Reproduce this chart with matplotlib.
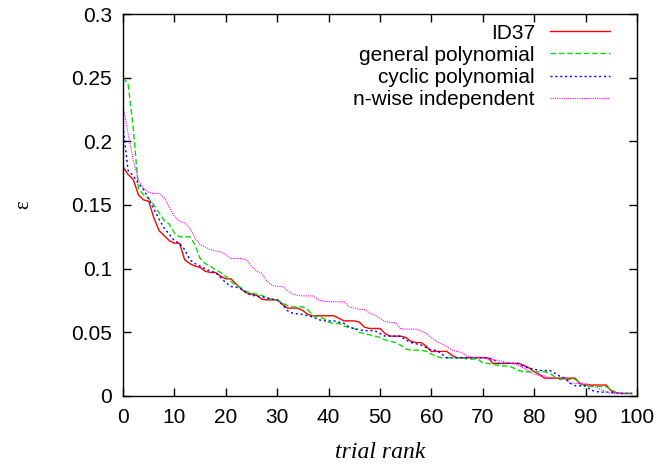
import numpy as np
import matplotlib
matplotlib.use('Agg')
import matplotlib.pyplot as plt

plt.rcParams['font.family'] = ['Liberation Sans', 'DejaVu Sans']

# epsilon per trial rank
id37 = [0.180, 0.174, 0.170, 0.158, 0.154, 0.153, 0.140, 0.130, 0.126, 0.122,
        0.120, 0.120, 0.107, 0.104, 0.102, 0.101, 0.098, 0.097, 0.097, 0.094,
        0.092, 0.092, 0.088, 0.084, 0.081, 0.080, 0.079, 0.076, 0.0755, 0.0755,
        0.0755, 0.072, 0.069, 0.069, 0.069, 0.067, 0.064, 0.063, 0.063, 0.063,
        0.063, 0.063, 0.061, 0.059, 0.059, 0.059, 0.058, 0.054, 0.053, 0.053,
        0.053, 0.049, 0.047, 0.047, 0.047, 0.046, 0.043, 0.042, 0.042, 0.039,
        0.035, 0.035, 0.035, 0.035, 0.032, 0.030, 0.030, 0.030, 0.030, 0.030,
        0.030, 0.030, 0.0256, 0.0256, 0.0256, 0.0256, 0.0256, 0.0256, 0.024, 0.022,
        0.019, 0.017, 0.014, 0.014, 0.014, 0.014, 0.014, 0.014, 0.014, 0.0094,
        0.0086, 0.0086, 0.0086, 0.0086, 0.0086, 0.004, 0.0025, 0.002, 0.002, 0.002]

general = [0.250, 0.245, 0.210, 0.163, 0.158, 0.155, 0.150, 0.144, 0.138, 0.135,
           0.128, 0.125, 0.125, 0.125, 0.119, 0.108, 0.104, 0.102, 0.099, 0.097,
           0.094, 0.090, 0.087, 0.085, 0.082, 0.081, 0.080, 0.079, 0.077, 0.076,
           0.0755, 0.073, 0.071, 0.070, 0.070, 0.070, 0.0675, 0.063, 0.062, 0.061,
           0.058, 0.057, 0.057, 0.055, 0.054, 0.053, 0.050, 0.049, 0.048, 0.047,
           0.046, 0.044, 0.043, 0.042, 0.040, 0.037, 0.036, 0.036, 0.036, 0.035,
           0.033, 0.031, 0.030, 0.030, 0.030, 0.030, 0.030, 0.029, 0.029, 0.029,
           0.026, 0.0256, 0.025, 0.024, 0.0236, 0.0236, 0.022, 0.020, 0.019, 0.019,
           0.019, 0.019, 0.019, 0.018, 0.015, 0.013, 0.013, 0.013, 0.013, 0.010,
           0.0075, 0.0075, 0.0075, 0.0075, 0.0073, 0.005, 0.0026, 0.002, 0.002, 0.002]

cyclic = [0.212, 0.177, 0.173, 0.167, 0.162, 0.155, 0.147, 0.139, 0.132, 0.127,
          0.122, 0.120, 0.115, 0.107, 0.104, 0.102, 0.100, 0.098, 0.097, 0.093,
          0.089, 0.086, 0.0855, 0.084, 0.081, 0.079, 0.0786, 0.078, 0.077, 0.076,
          0.0754, 0.072, 0.067, 0.065, 0.0645, 0.064, 0.063, 0.062, 0.060, 0.059,
          0.059, 0.059, 0.058, 0.057, 0.054, 0.053, 0.052, 0.0513, 0.0513, 0.0513,
          0.049, 0.047, 0.047, 0.047, 0.047, 0.044, 0.042, 0.041, 0.040, 0.038,
          0.036, 0.036, 0.033, 0.030, 0.030, 0.030, 0.030, 0.030, 0.030, 0.030,
          0.030, 0.030, 0.029, 0.0256, 0.0256, 0.0256, 0.0256, 0.0256, 0.023, 0.022,
          0.021, 0.020, 0.020, 0.020, 0.018, 0.0155, 0.014, 0.010, 0.008, 0.008,
          0.008, 0.0047, 0.0035, 0.003, 0.003, 0.003, 0.002, 0.002, 0.002, 0.002]

nwise = [0.228, 0.206, 0.185, 0.170, 0.163, 0.160, 0.159, 0.159, 0.156, 0.148,
         0.141, 0.137, 0.136, 0.132, 0.124, 0.119, 0.117, 0.115, 0.114, 0.113,
         0.111, 0.108, 0.108, 0.108, 0.107, 0.102, 0.098, 0.0965, 0.090, 0.087,
         0.086, 0.086, 0.083, 0.080, 0.079, 0.0786, 0.0786, 0.0786, 0.0755, 0.0745,
         0.074, 0.074, 0.074, 0.074, 0.070, 0.069, 0.068, 0.068, 0.065, 0.0636,
         0.061, 0.0585, 0.0578, 0.0576, 0.053, 0.0525, 0.0525, 0.0525, 0.051, 0.049,
         0.046, 0.043, 0.041, 0.039, 0.036, 0.035, 0.034, 0.031, 0.0305, 0.0305,
         0.0305, 0.029, 0.0285, 0.028, 0.027, 0.026, 0.0255, 0.024, 0.022, 0.019,
         0.017, 0.016, 0.0157, 0.014, 0.014, 0.014, 0.013, 0.010, 0.010, 0.010,
         0.010, 0.0086, 0.007, 0.005, 0.003, 0.002, 0.002, 0.002, 0.002, 0.002]

rank = np.arange(len(id37))

fig = plt.figure(figsize=(6.62, 4.69), dpi=100)
ax = fig.add_axes([0.1858, 0.1557, 0.7764, 0.8144])

ax.plot(rank, id37, color='#ff0000', lw=1.0, label='ID37')
ax.plot(rank, general, color='#00e000', lw=1.0, ls=(0, (4, 2)), label='general polynomial')
ax.plot(rank, cyclic, color='#0000ff', lw=1.0, ls=(0, (1.5, 2)), label='cyclic polynomial')
ax.plot(rank, nwise, color='#ff00ff', lw=0.8, ls=(0, (1, 1)), label='n-wise independent')

ax.set_xlim(0, 100)
ax.set_ylim(0, 0.3)
ax.set_xticks(range(0, 101, 10))
ax.set_yticks([0, 0.05, 0.1, 0.15, 0.2, 0.25, 0.3])
ax.set_yticklabels(['0', '0.05', '0.1', '0.15', '0.2', '0.25', '0.3'])
ax.tick_params(direction='in', length=6, width=1, top=True, right=True,
               labelsize=15, pad=8)
ax.tick_params(axis='x', pad=9)
for s in ax.spines.values():
    s.set_linewidth(1.0)

ax.set_xlabel('trial rank', fontsize=17, style='italic',
              family=['Liberation Serif', 'DejaVu Serif'])
ax.xaxis.set_label_coords(0.5, -0.12)
ax.set_ylabel('ε', fontsize=15, family=['Liberation Serif', 'DejaVu Serif'])
ax.yaxis.set_label_coords(-0.175, 0.5)

ax.legend(loc='upper right', bbox_to_anchor=(0.9475, 0.975), frameon=False,
          markerfirst=False, fontsize=15, handlelength=2.9, handletextpad=0.7,
          labelspacing=0.15, borderpad=0, borderaxespad=0)

fig.savefig('out.png', dpi=100)
